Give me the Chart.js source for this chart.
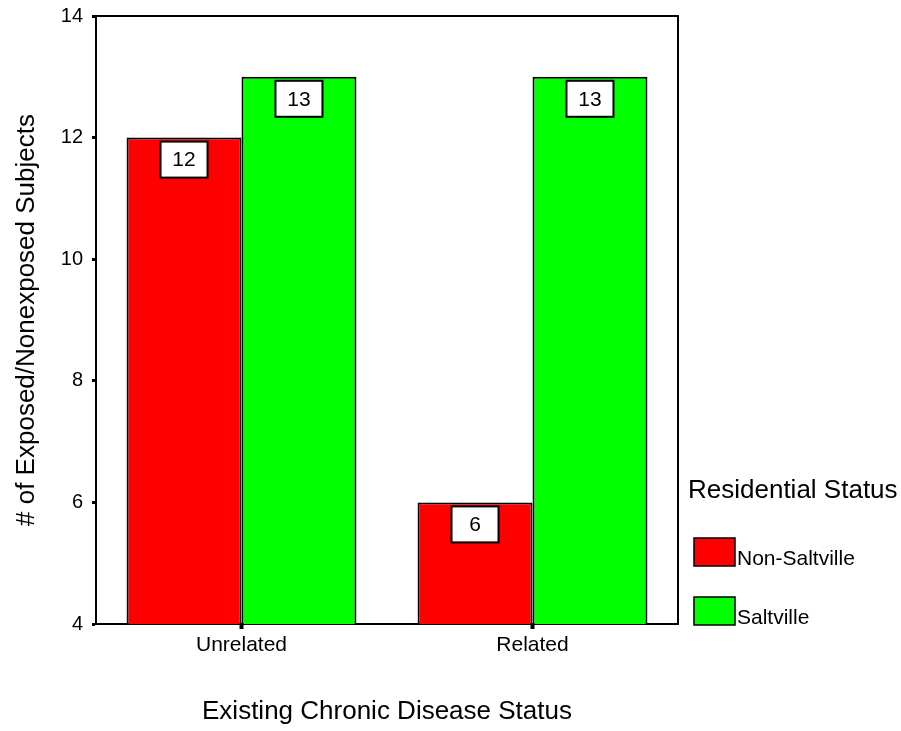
<!DOCTYPE html>
<html>
<head>
<meta charset="utf-8">
<script src="https://cdn.jsdelivr.net/npm/chart.js@4.4.1/dist/chart.umd.min.js"></script>
<style>
  html, body { margin: 0; padding: 0; background: #fff; }
  #wrap { width: 901px; height: 731px; }
</style>
</head>
<body>
<div id="wrap"><canvas id="grafico" width="901" height="731"></canvas></div>
<script>
const categorias = ['Unrelated', 'Related'];
const nonSaltville = [12, 6];
const saltville = [13, 13];
const yTicks = [4, 6, 8, 10, 12, 14];
const legendTitle = 'Residential Status';

const FONT = '"Liberation Sans", Arial, sans-serif';

// cajas blancas con el valor encima de cada barra
const etiquetas = {
  id: 'etiquetas',
  afterDatasetsDraw(chart) {
    const ctx = chart.ctx;
    ctx.save();
    chart.data.datasets.forEach((ds, i) => {
      chart.getDatasetMeta(i).data.forEach((bar, j) => {
        const w = 47, h = 36;
        const x = bar.x - w / 2, y = bar.y + 4;
        ctx.fillStyle = '#fff';
        ctx.fillRect(x, y, w, h);
        ctx.lineWidth = 2;
        ctx.strokeStyle = '#000';
        ctx.strokeRect(x, y, w, h);
        ctx.fillStyle = '#000';
        ctx.font = '21px ' + FONT;
        ctx.textAlign = 'center';
        ctx.textBaseline = 'middle';
        ctx.fillText(String(ds.data[j]), bar.x, y + h / 2 + 1);
      });
    });
    ctx.restore();
  }
};

// marco del área y leyenda a la derecha
const marcoLeyenda = {
  id: 'marcoLeyenda',
  afterDraw(chart) {
    const ctx = chart.ctx;
    const a = chart.chartArea;
    ctx.save();
    ctx.strokeStyle = '#000';
    ctx.lineWidth = 2;
    ctx.beginPath();
    ctx.moveTo(a.left, a.top);
    ctx.lineTo(a.right, a.top);
    ctx.lineTo(a.right, a.bottom);
    ctx.stroke();

    ctx.fillStyle = '#000';
    ctx.textAlign = 'left';
    ctx.textBaseline = 'alphabetic';
    ctx.font = '26px ' + FONT;
    ctx.fillText(legendTitle, 688, 498);

    const filas = [538, 597];
    chart.data.datasets.forEach((ds, i) => {
      const y = filas[i];
      ctx.fillStyle = ds.backgroundColor;
      ctx.fillRect(694, y, 41, 28);
      ctx.lineWidth = 1.5;
      ctx.strokeStyle = '#000';
      ctx.strokeRect(694, y, 41, 28);
      ctx.fillStyle = '#000';
      ctx.font = '21px ' + FONT;
      ctx.fillText(ds.label, 737, y + 27);
    });
    ctx.restore();
  }
};

const ctx = document.getElementById('grafico').getContext('2d');
new Chart(ctx, {
  type: 'bar',
  data: {
    labels: categorias,
    datasets: [
      {
        label: 'Non-Saltville',
        data: nonSaltville,
        backgroundColor: '#ff0000',
        borderColor: '#000',
        borderWidth: 2,
        borderSkipped: false
      },
      {
        label: 'Saltville',
        data: saltville,
        backgroundColor: '#00ff00',
        borderColor: '#000',
        borderWidth: 2,
        borderSkipped: false
      }
    ]
  },
  options: {
    responsive: false,
    animation: false,
    events: [],
    categoryPercentage: 0.79,
    barPercentage: 1,
    layout: { padding: { left: 0, top: 16, right: 223, bottom: 0 } },
    plugins: {
      legend: { display: false },
      tooltip: { enabled: false }
    },
    scales: {
      x: {
        afterFit: s => { s.height = 107; s.paddingLeft = 0; s.paddingRight = 0; },
        grid: {
          offset: false,
          drawOnChartArea: false,
          tickLength: 5,
          tickWidth: 4,
          tickColor: '#000'
        },
        border: { display: true, color: '#000', width: 2 },
        ticks: { color: '#000', padding: 4, font: { family: FONT, size: 21 } },
        title: {
          display: true,
          text: 'Existing Chronic Disease Status',
          color: '#000',
          font: { family: FONT, size: 26 },
          padding: { top: 0, bottom: 4 }
        }
      },
      y: {
        min: 4,
        max: 14,
        afterFit: s => { s.width = 96; s.paddingTop = 0; s.paddingBottom = 0; },
        afterBuildTicks: s => { s.ticks = yTicks.map(v => ({ value: v })); },
        grid: {
          drawOnChartArea: false,
          tickLength: 4,
          tickWidth: 3,
          tickColor: '#000'
        },
        border: { display: true, color: '#000', width: 2 },
        ticks: { color: '#000', padding: 9, font: { family: FONT, size: 20 } },
        title: {
          display: true,
          text: '# of Exposed/Nonexposed Subjects',
          color: '#000',
          font: { family: FONT, size: 26 },
          padding: { top: 11, bottom: 0 }
        }
      }
    }
  },
  plugins: [etiquetas, marcoLeyenda]
});
</script>
</body>
</html>
